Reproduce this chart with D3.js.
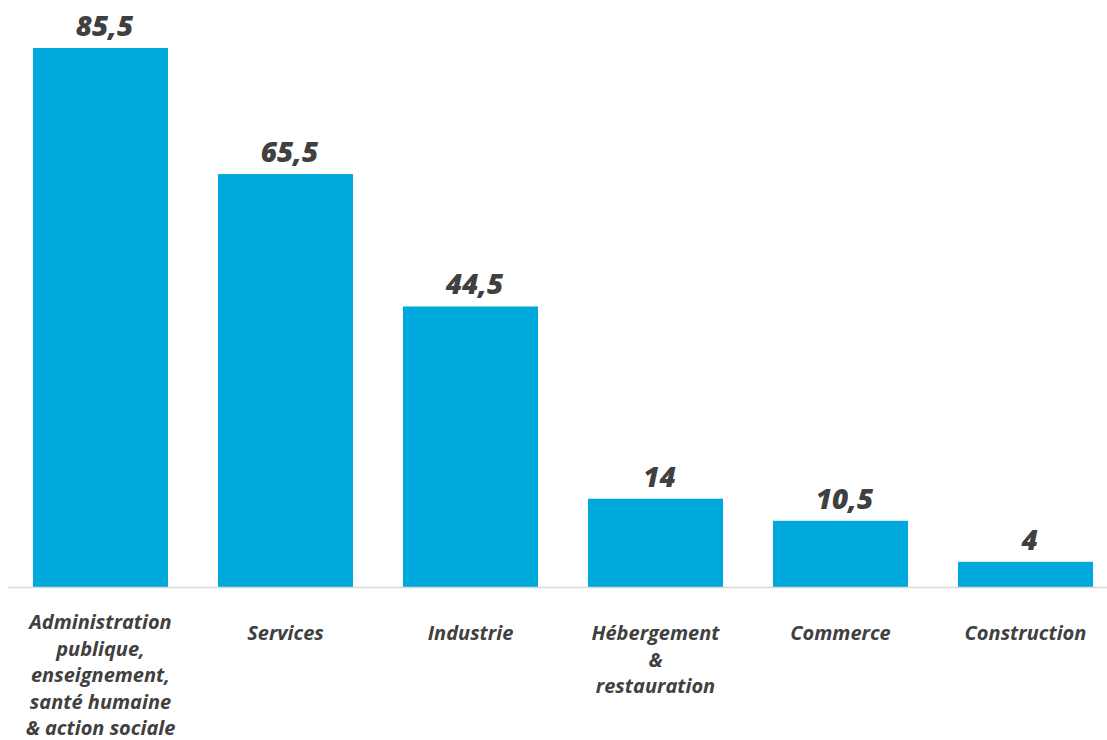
<!DOCTYPE html>
<html>
<head>
<meta charset="utf-8">
<script src="https://cdn.jsdelivr.net/npm/d3@7"></script>
<style>
  html, body { margin: 0; padding: 0; background: #fff; }
  svg { display: block; }
  text { font-family: "Open Sans", Lato, sans-serif; font-weight: 700; font-style: italic; fill: #404040; }
</style>
</head>
<body>
<svg id="chart" width="1107" height="740"></svg>
<script>
// Sector categories (multi-line labels split by "\n") and their values
const categories = [
  "Administration\npublique,\nenseignement,\nsanté humaine\n& action sociale",
  "Services",
  "Industrie",
  "Hébergement\n&\nrestauration",
  "Commerce",
  "Construction"
];
const values = [85.5, 65.5, 44.5, 14, 10.5, 4];

const W = 1107, H = 740;
const baseline = 587;
const svg = d3.select("#chart");

const x = d3.scaleBand()
  .domain(categories)
  .range([8, 1118])
  .paddingInner(0.27)
  .paddingOuter(0.135);

const y = d3.scaleLinear()
  .domain([0, 85.5])
  .range([baseline, 48]);

const fmt = v => d3.format(",")(v).replace(".", ",");

// Bars
svg.append("g").selectAll("rect")
  .data(values)
  .join("rect")
  .attr("x", (d, i) => x(categories[i]))
  .attr("y", d => y(d))
  .attr("width", x.bandwidth())
  .attr("height", d => y(0) - y(d))
  .attr("fill", "#00a9dc");

// Baseline axis
svg.append("line")
  .attr("x1", 8).attr("x2", W)
  .attr("y1", baseline + 0.5).attr("y2", baseline + 0.5)
  .attr("stroke", "#d9d9d9").attr("stroke-width", 1.5);

// Value labels
svg.append("g").selectAll("text")
  .data(values)
  .join("text")
  .attr("x", (d, i) => x(categories[i]) + x.bandwidth() / 2 + 4)
  .attr("y", d => y(d) - 12)
  .attr("text-anchor", "middle")
  .style("font-size", "28px")
  .style("font-weight", 800)
  .text(d => fmt(d));

// Category labels
const lab = svg.append("g").selectAll("text")
  .data(categories)
  .join("text")
  .attr("x", d => x(d) + x.bandwidth() / 2)
  .attr("y", d => d.split("\n").length > 3 ? 629 : 640)
  .attr("text-anchor", "middle")
  .style("font-size", "20px");

lab.each(function(d) {
  const t = d3.select(this);
  const cx = +t.attr("x");
  d.split("\n").forEach((line, j) => {
    t.append("tspan")
      .attr("x", cx)
      .attr("dy", j === 0 ? 0 : 26.5)
      .text(line);
  });
});
</script>
</body>
</html>
